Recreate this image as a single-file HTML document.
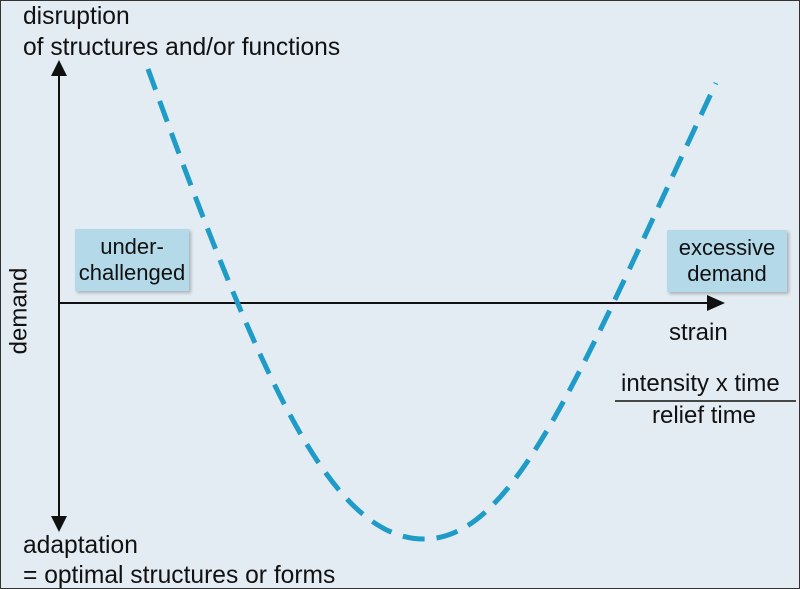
<!DOCTYPE html>
<html><head><style>
body{margin:0;}
.w{position:relative;width:798px;height:587px;background:#e3ecf3;border:1px solid #333;font-family:"Liberation Sans",sans-serif;color:#111;overflow:hidden;}
.t{position:absolute;font-size:24px;white-space:nowrap;line-height:28px;}
.b{position:absolute;background:#b4d9e8;box-shadow:2px 2px 3px rgba(0,0,0,0.25);text-align:center;font-size:22px;line-height:26px;}
</style></head><body>
<div class="w">
<svg width="798" height="587" style="position:absolute;left:0;top:0">
<line x1="58" y1="70" x2="58" y2="520" stroke="#111" stroke-width="2"/>
<path d="M50,75 L58,59 L66,75z" fill="#111"/>
<path d="M50,515 L58,531 L66,515z" fill="#111"/>
<line x1="58" y1="302" x2="710" y2="302" stroke="#111" stroke-width="2"/>
<path d="M706,294 L724,302 L706,310z" fill="#111"/>
<path d="M147,68 C260,380 330,540 425,538 C515,536 580,370 715,82" fill="none" stroke="#1e9bc6" stroke-width="5" stroke-dasharray="22,12"/>
<line x1="614" y1="400" x2="795" y2="400" stroke="#111" stroke-width="1.5"/>
</svg>
<div class="t" style="left:22px;top:2px;font-size:24.6px">disruption</div>
<div class="t" style="left:22px;top:33px;font-size:24.6px">of structures and/or functions</div>
<div class="t" style="left:22px;top:531px;font-size:24.6px">adaptation</div>
<div class="t" style="left:22px;top:561px;font-size:24.6px">= optimal structures or forms</div>
<div class="t" style="left:-25px;top:296px;transform:rotate(-90deg);">demand</div>
<div class="b" style="left:74px;top:228px;width:114px;height:62px;padding-top:5px;box-sizing:border-box">under-<br>challenged</div>
<div class="b" style="left:666px;top:229px;width:120px;height:62px;padding-top:5px;box-sizing:border-box">excessive<br>demand</div>
<div class="t" style="left:668px;top:318px">strain</div>
<div class="t" style="left:620px;top:369px">intensity x time</div>
<div class="t" style="left:651px;top:401px">relief time</div>
</div>
</body></html>
